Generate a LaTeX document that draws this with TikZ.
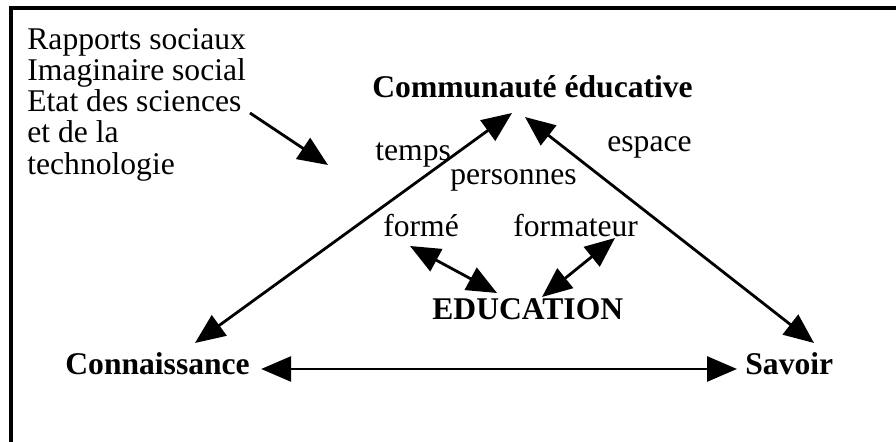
\documentclass[tikz,border=0pt]{standalone}
\usepackage{fontspec}
\setmainfont{Liberation Serif}
\usetikzlibrary{
    positioning,
    arrows.meta,
    calc
}

\begin{document}
\begin{tikzpicture}[
    x=0.5pt, y=-0.5pt,
    every node/.style={inner sep=0pt, anchor=base west, font=\fontsize{15.8}{15.6}\selectfont},
    pole/.style={font=\fontsize{15.8}{15.6}\selectfont\bfseries},
    cadre/.style={line width=2pt},
    arrow/.style={line width=1.4pt, -{Triangle[length=15pt, width=12.5pt]}},
    biarrow/.style={line width=1.4pt, {Triangle[length=15pt, width=12.5pt]}-{Triangle[length=15pt, width=12.5pt]}}
]
\useasboundingbox (0,0) rectangle (896,442);
\draw[cadre] (11,442) -- (11,8) -- (896,8);

% contexte
\node[anchor=north west, align=left] (contexte) at (27,28) {Rapports sociaux\\Imaginaire social\\Etat des sciences\\et de la\\technologie};
\coordinate (cible) at (328,165);

% poles du triangle
\node[pole] (communaute) at (372,98) {Communauté éducative};
\node[pole] (connaissance) at (65,375) {Connaissance};
\node[pole] (savoir) at (745,375) {Savoir};
\node[pole] (education) at (432,320) {EDUCATION};

% mots
\node (temps) at (375,161) {temps};
\node (personnes) at (450,185) {personnes};
\node (espace) at (607,152) {espace};
\node (forme) at (383,237) {formé};
\node (formateur) at (513,237) {formateur};

\draw[arrow] ($(contexte.north west)+(223,85)$) -- (cible);
\draw[biarrow] ($(connaissance.base west)+(130,-32)$) -- ($(communaute.base west)+(140,15)$);
\draw[biarrow] ($(communaute.base west)+(153,19)$) -- ($(savoir.base west)+(69,-32)$);
\draw[biarrow] ($(connaissance.base east)+(11,-6)$) -- ($(savoir.base west)+(-8,-6)$);
\draw[biarrow] ($(forme.base west)+(27,9)$) -- ($(education.base west)+(65,-27)$);
\draw[biarrow] ($(formateur.base west)+(102,1)$) -- ($(education.base west)+(110,-23)$);
\end{tikzpicture}
\end{document}
